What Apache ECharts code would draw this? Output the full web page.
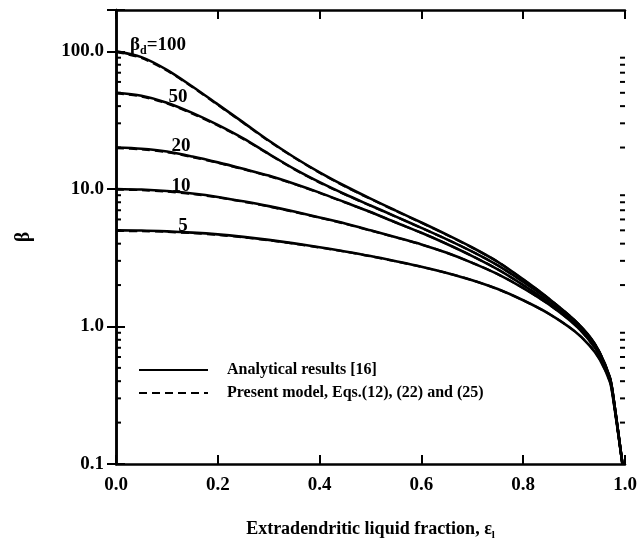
<!DOCTYPE html>
<html><head><meta charset="utf-8">
<script src="https://cdn.jsdelivr.net/npm/echarts@6/dist/echarts.min.js"></script>
<style>html,body{margin:0;padding:0;background:#fff}#c{width:640px;height:546px}</style>
</head><body><div id="c"></div>
<script>
const eps = [0,0.05,0.1,0.15,0.2,0.25,0.3,0.35,0.4,0.45,0.5,0.55,0.6,0.65,0.7,0.75,0.8,0.85,0.9,0.93,0.95,0.97,0.976,0.995];
// Analytical results [16]
const an100 = [100,90.9,73.5,55.6,41.2,30.5,22.5,17.0,13.2,10.5,8.5,6.95,5.7,4.65,3.75,2.95,2.2,1.6,1.12,0.85,0.65,0.43,0.33,0.1];
const an50  = [50,47.6,42.4,35.7,29.2,23.3,18.0,14.0,11.2,9.15,7.58,6.29,5.21,4.3,3.5,2.78,2.11,1.57,1.11,0.84,0.645,0.427,0.329,0.1];
const an20  = [20,19.6,18.7,17.2,15.6,14.0,12.5,10.9,9.4,8.0,6.8,5.7,4.8,3.98,3.25,2.6,2.0,1.5,1.07,0.82,0.633,0.422,0.326,0.1];
const an10  = [10,9.9,9.65,9.26,8.75,8.13,7.5,6.85,6.2,5.6,5.0,4.45,3.95,3.43,2.9,2.4,1.9,1.45,1.04,0.79,0.615,0.413,0.321,0.1];
const an5   = [5,4.98,4.91,4.81,4.67,4.48,4.26,4.02,3.77,3.51,3.25,2.98,2.72,2.45,2.17,1.87,1.55,1.24,0.93,0.73,0.58,0.40,0.31,0.1];
// Present model, Eqs.(12), (22) and (25)
const pm100 = [99,89.5,72.5,55.0,40.8,30.2,22.3,16.9,13.1,10.4,8.45,6.9,5.68,4.63,3.74,2.95,2.2,1.6,1.12,0.85,0.65,0.43,0.33,0.1];
const pm50  = [49.5,47.0,41.8,35.2,28.9,23.1,17.9,13.9,11.1,9.1,7.55,6.27,5.2,4.3,3.5,2.78,2.11,1.57,1.11,0.84,0.645,0.427,0.329,0.1];
const pm20  = [19.8,19.4,18.5,17.0,15.5,13.9,12.4,10.85,9.35,7.97,6.78,5.69,4.79,3.98,3.25,2.6,2.0,1.5,1.07,0.82,0.633,0.422,0.326,0.1];
const pm10  = [9.9,9.8,9.55,9.17,8.67,8.07,7.45,6.8,6.17,5.58,4.98,4.44,3.94,3.43,2.9,2.4,1.9,1.45,1.04,0.79,0.615,0.413,0.321,0.1];
const pm5   = [4.95,4.93,4.87,4.77,4.63,4.45,4.23,4.0,3.75,3.5,3.24,2.97,2.71,2.45,2.17,1.87,1.55,1.24,0.93,0.73,0.58,0.40,0.31,0.1];
const curveLabels = ['100','50','20','10','5'];
const xTicks = [0,0.2,0.4,0.6,0.8,1.0];
const yMajor = [0.1,1,10,100];
const yMinor = [0.2,0.3,0.4,0.5,0.6,0.7,0.8,0.9,2,3,4,5,6,7,8,9,20,30,40,50,60,70,80,90];

const FONT = "'Liberation Serif','DejaVu Serif',serif";
const AN = 'Analytical results [16]';
const PM = 'Present model, Eqs.(12), (22) and (25)';
const pair = (xs, ys) => xs.map((x,i)=>[x, ys[i]]);
const noSym = {color:'transparent', borderColor:'transparent', borderWidth:0, opacity:0};

const series = [];
[an100,an50,an20,an10,an5].forEach(a=>series.push({
  name: AN, type:'line', data: pair(eps,a), symbol:'none', smooth:0.3, z:3,
  itemStyle: noSym,
  lineStyle:{color:'#000', width:2.6, type:'solid'}
}));
[pm100,pm50,pm20,pm10,pm5].forEach(a=>series.push({
  name: PM, type:'line', data: pair(eps,a), symbol:'none', smooth:0.3, z:4,
  itemStyle: noSym,
  lineStyle:{color:'#000', width:2.2, type:[8,5]}
}));
series.push({
  type:'custom', name:'minor', xAxisIndex:0, yAxisIndex:0, silent:true, clip:false, z:5,
  data: yMinor.map(v=>[0,v]),
  renderItem(params, api){
    const v = api.value(1);
    const pL = api.coord([0, v]);
    const pR = api.coord([1, v]);
    return {type:'group', children:[
      {type:'line', shape:{x1:pL[0], y1:pL[1], x2:pL[0]+5, y2:pL[1]}, style:{stroke:'#000', lineWidth:2}},
      {type:'line', shape:{x1:pR[0]-5, y1:pR[1], x2:pR[0], y2:pR[1]}, style:{stroke:'#000', lineWidth:2}}
    ]};
  }
});

const chart = echarts.init(document.getElementById('c'), null, {renderer:'canvas'});
const axisLine = {show:true, lineStyle:{color:'#000', width:2.5}};
chart.setOption({
  animation:false,
  backgroundColor:'#fff',
  grid:{left:116, right:15, top:10, bottom:74},
  legend:{
    orient:'vertical', left:138, top:362, padding:0, itemWidth:69, itemHeight:12, itemGap:7,
    data:[AN, PM], selectedMode:false,
    itemStyle:{opacity:0},
    textStyle:{fontFamily:FONT, fontWeight:'bold', fontSize:16, color:'#000', padding:[0,0,0,14]}
  },
  xAxis:[{
    type:'value', min:0, max:1, interval:0.2, position:'bottom',
    axisLine, splitLine:{show:false},
    axisTick:{show:true, inside:true, length:9, lineStyle:{color:'#000', width:2}},
    axisLabel:{margin:12, fontFamily:FONT, fontWeight:'bold', fontSize:19, color:'#000',
      formatter:v=>xTicks.some(t=>Math.abs(t-v)<1e-9)? v.toFixed(1):''},
    name:'{a|Extradendritic liquid fraction, ε}{s|l}', nameLocation:'middle', nameGap:54,
    nameTextStyle:{rich:{
      a:{fontFamily:FONT, fontWeight:'bold', fontSize:18, color:'#000'},
      s:{fontFamily:FONT, fontWeight:'bold', fontSize:11, color:'#000', padding:[12,0,0,0]}
    }}
  },{
    type:'value', min:0, max:1, interval:0.2, position:'top',
    axisLine, splitLine:{show:false}, axisLabel:{show:false},
    axisTick:{show:true, inside:true, length:9, lineStyle:{color:'#000', width:2}}
  }],
  yAxis:[{
    type:'log', logBase:10, min:0.1, max:200, position:'left',
    axisLine, splitLine:{show:false},
    axisTick:{show:true, inside:true, length:9, lineStyle:{color:'#000', width:2}},
    axisLabel:{margin:12, fontFamily:FONT, fontWeight:'bold', fontSize:19, color:'#000',
      formatter:v=>{ const m = yMajor.find(t=>Math.abs(t-v)/t<1e-6); if(m===undefined) return ''; return m<1? String(m): m.toFixed(1);} },
    name:'β', nameLocation:'middle', nameGap:82, nameRotate:90,
    nameTextStyle:{fontFamily:FONT, fontWeight:'bold', fontSize:20, color:'#000'}
  },{
    type:'log', logBase:10, min:0.1, max:200, position:'right',
    axisLine, splitLine:{show:false}, axisLabel:{show:false},
    axisTick:{show:true, inside:true, length:9, lineStyle:{color:'#000', width:2}}
  }],
  graphic:[
    {type:'text', left:130, top:36, z:10, style:{text:'{b|β}{s|d}{b|=' + curveLabels[0] + '}', rich:{
      b:{font:"bold 19px 'Liberation Serif',serif", fill:'#000'},
      s:{font:"bold 12px 'Liberation Serif',serif", fill:'#000', padding:[10,0,0,0]}
    }}},
    {type:'text', x:178, y:97, z:10, style:{text:curveLabels[1], font:"bold 19px 'Liberation Serif',serif", fill:'#000', textAlign:'center', textVerticalAlign:'middle'}},
    {type:'text', x:181, y:146, z:10, style:{text:curveLabels[2], font:"bold 19px 'Liberation Serif',serif", fill:'#000', textAlign:'center', textVerticalAlign:'middle'}},
    {type:'text', x:181, y:186, z:10, style:{text:curveLabels[3], font:"bold 19px 'Liberation Serif',serif", fill:'#000', textAlign:'center', textVerticalAlign:'middle'}},
    {type:'text', x:183, y:226, z:10, style:{text:curveLabels[4], font:"bold 19px 'Liberation Serif',serif", fill:'#000', textAlign:'center', textVerticalAlign:'middle'}}
  ],
  series
});
</script></body></html>
